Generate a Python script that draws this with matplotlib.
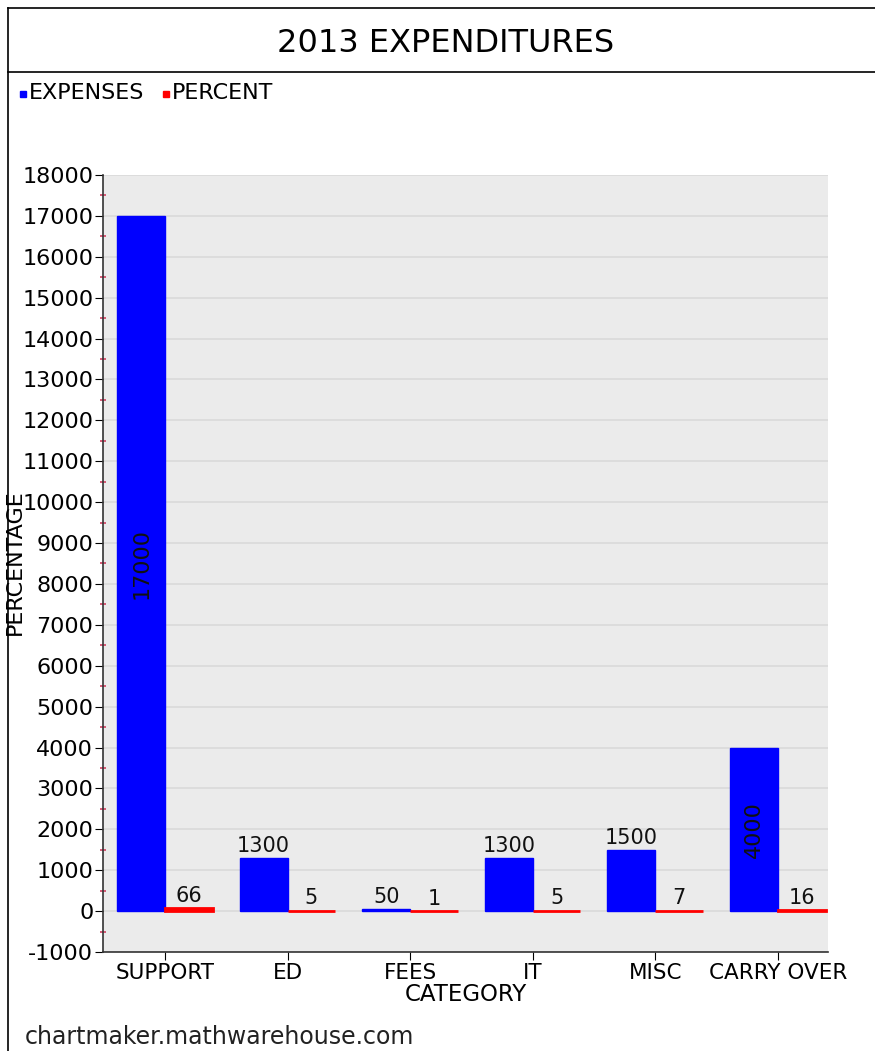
import matplotlib
matplotlib.use("Agg")
from matplotlib import pyplot as plt
from matplotlib.ticker import MultipleLocator
import numpy as np

plt.rcParams["axes.unicode_minus"] = False

categories = ["SUPPORT", "ED", "FEES", "IT", "MISC", "CARRY OVER"]
expenses = [17000, 1300, 50, 1300, 1500, 4000]
percent = [66, 5, 1, 5, 7, 16]
# labels drawn rotated inside the bar instead of on top
inside = [True, False, False, False, False, True]

blue = "#0000ff"
red = "#ff0000"

fig = plt.figure(figsize=(8.75, 10.51), dpi=100)
ax = fig.add_axes([0.1177, 0.0942, 0.8286, 0.7393])

x = np.arange(len(categories))
w = 0.39
ax.bar(x - w / 2, expenses, w, color=blue, edgecolor=blue, linewidth=1, zorder=3)
ax.bar(x + w / 2, percent, w, color=red, edgecolor=red, linewidth=2, zorder=3)

for i in range(len(categories)):
    if inside[i]:
        ax.text(x[i] - w / 2, expenses[i] / 2, str(expenses[i]), rotation=90,
                ha="center", va="center", fontsize=16, color="#111111", zorder=4)
    else:
        ax.text(x[i] - w / 2, expenses[i] + 40, str(expenses[i]),
                ha="center", va="bottom", fontsize=15, color="#111111", zorder=4)
    ax.text(x[i] + w / 2, percent[i] + 60, str(percent[i]),
            ha="center", va="bottom", fontsize=15, color="#111111", zorder=4)

ax.set_xlim(-0.506, 5.41)
ax.set_ylim(-1000, 18000)
ax.set_xticks(x)
ax.set_xticklabels(categories, fontsize=15.5)
ax.yaxis.set_major_locator(MultipleLocator(1000))
ax.yaxis.set_minor_locator(MultipleLocator(500))
ax.tick_params(axis="y", labelsize=16, length=6, direction="out", pad=1)
ax.tick_params(axis="y", which="minor", length=4, width=1.2, color="#d04060", direction="inout")
ax.tick_params(axis="x", length=6, direction="out", pad=2)

ax.set_facecolor("#ebebeb")
ax.grid(axis="y", color="#dadada", linewidth=1.2, zorder=0)
ax.set_axisbelow(True)
for s in ["top", "right"]:
    ax.spines[s].set_visible(False)
for s in ["left", "bottom"]:
    ax.spines[s].set_color("#333333")
    ax.spines[s].set_linewidth(1.2)

ax.set_xlabel("CATEGORY", fontsize=16.5, labelpad=0)
fig.text(15 / 875, 1 - 562 / 1051, "PERCENTAGE", rotation=90, fontsize=16,
         ha="center", va="center")

# title and frame
fig.text(446 / 875, 1 - 44 / 1051, "2013 EXPENDITURES", fontsize=23,
         ha="center", va="center")
fig.add_artist(plt.Line2D([8 / 875, 8 / 875], [0, 1 - 8 / 1051], color="black", lw=1.2))
fig.add_artist(plt.Line2D([8 / 875, 1], [1 - 8 / 1051, 1 - 8 / 1051], color="black", lw=1.2))
fig.add_artist(plt.Line2D([8 / 875, 1], [1 - 72 / 1051, 1 - 72 / 1051], color="black", lw=1.2))

# legend
fig.patches.append(plt.Rectangle((20 / 875, 1 - 97 / 1051), 6 / 875, 6 / 1051,
                                 color=blue, transform=fig.transFigure, figure=fig))
fig.text(29 / 875, 1 - 93 / 1051, "EXPENSES", fontsize=16, ha="left", va="center")
fig.patches.append(plt.Rectangle((163 / 875, 1 - 97 / 1051), 6 / 875, 6 / 1051,
                                 color=red, transform=fig.transFigure, figure=fig))
fig.text(172 / 875, 1 - 93 / 1051, "PERCENT", fontsize=16, ha="left", va="center")

fig.text(25 / 875, 1 - 1037 / 1051, "chartmaker.mathwarehouse.com", fontsize=17,
         ha="left", va="center", color="#222222")

fig.savefig("out.png", dpi=100)
